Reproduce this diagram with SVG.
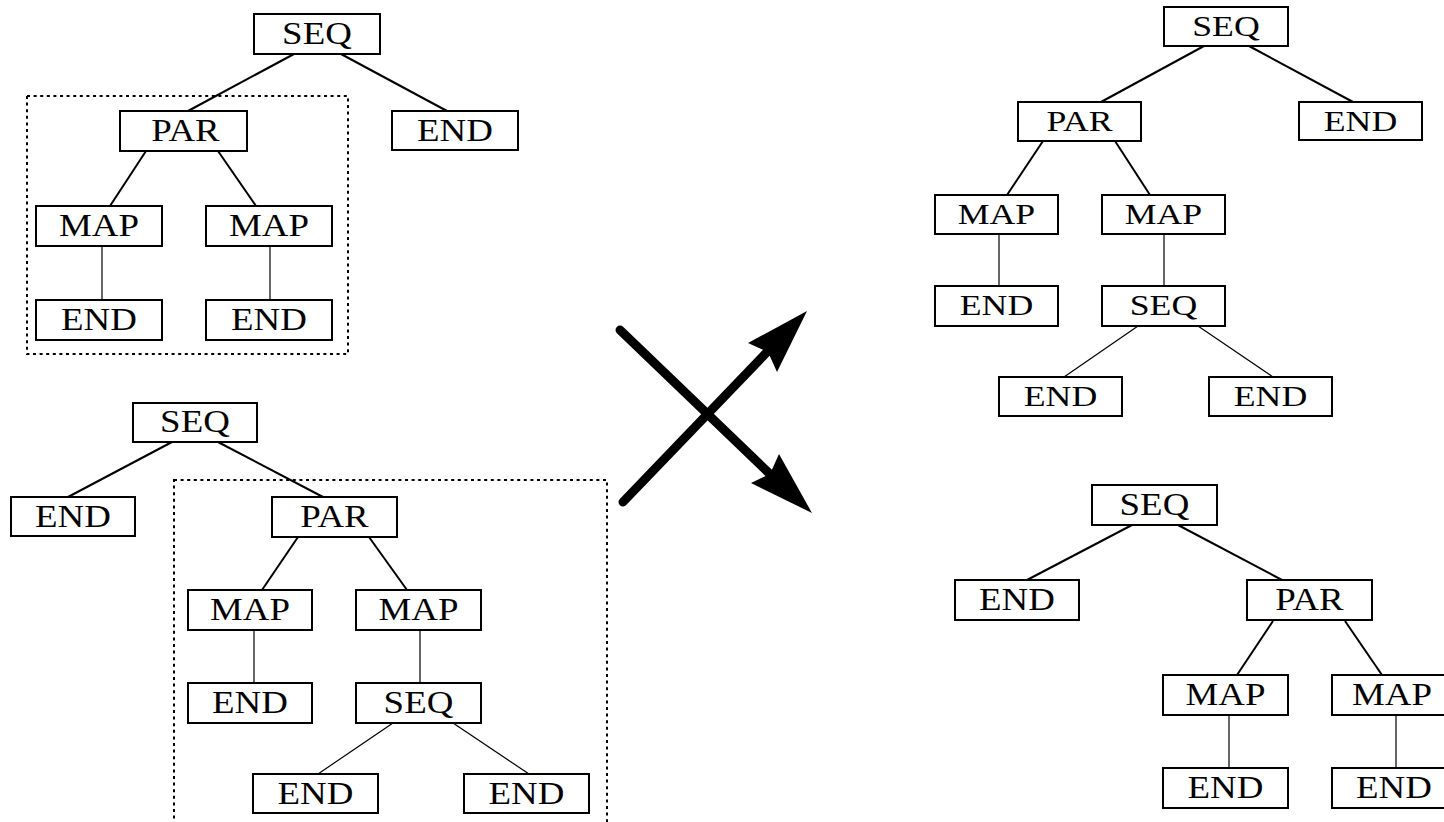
<svg xmlns="http://www.w3.org/2000/svg" width="1444" height="822" viewBox="0 0 1444 822">
  <style>
    .box { fill: #fff; stroke: #000; stroke-width: 2; }
    .lbl { font-family: "Liberation Serif", "Times New Roman", serif; font-size: 31px; text-anchor: middle; fill: #000;
           transform-box: fill-box; transform-origin: center; transform: scaleX(1.19); }
    .sm { font-size: 30px; }
    .edge { stroke: #000; stroke-width: 2; fill: none; }
    .thin { stroke-width: 1.2; }
    .frame { fill: none; stroke: #000; stroke-width: 2; stroke-dasharray: 3 3.6; }
    .big { stroke: #000; stroke-width: 9; stroke-linecap: round; fill: none; }
  </style>
  <rect width="1444" height="822" fill="#fff"/>

  <!-- dotted frames around the exchanged subtrees -->
  <g id="frames">
    <rect class="frame" x="27" y="96" width="321" height="258"/>
    <rect class="frame" x="174" y="480" width="433" height="360"/>
  </g>

  <!-- connectors -->
  <g id="connectors">
    <!-- tree A -->
    <line class="edge" x1="294" y1="54" x2="188" y2="111"/>
    <line class="edge" x1="341" y1="54" x2="447" y2="111"/>
    <line class="edge" x1="146" y1="151" x2="110" y2="206"/>
    <line class="edge" x1="218" y1="151" x2="256" y2="206"/>
    <line class="edge thin" x1="102" y1="246" x2="102" y2="300"/>
    <line class="edge thin" x1="270" y1="246" x2="270" y2="300"/>
    <!-- tree B -->
    <line class="edge" x1="172" y1="442" x2="68" y2="497"/>
    <line class="edge" x1="218" y1="442" x2="323" y2="497"/>
    <line class="edge" x1="298" y1="537" x2="262" y2="590"/>
    <line class="edge" x1="369" y1="537" x2="407" y2="590"/>
    <line class="edge thin" x1="254" y1="630" x2="254" y2="683"/>
    <line class="edge thin" x1="420" y1="630" x2="420" y2="683"/>
    <line class="edge thin" x1="393" y1="723" x2="318" y2="774"/>
    <line class="edge thin" x1="453" y1="723" x2="529" y2="774"/>
    <!-- tree C -->
    <line class="edge" x1="1204" y1="46" x2="1101" y2="102"/>
    <line class="edge" x1="1249" y1="46" x2="1353" y2="102"/>
    <line class="edge" x1="1043" y1="141" x2="1007" y2="195"/>
    <line class="edge" x1="1115" y1="141" x2="1150" y2="195"/>
    <line class="edge thin" x1="999" y1="234" x2="999" y2="286"/>
    <line class="edge thin" x1="1164" y1="234" x2="1164" y2="286"/>
    <line class="edge thin" x1="1138" y1="326" x2="1064" y2="377"/>
    <line class="edge thin" x1="1198" y1="326" x2="1273" y2="377"/>
    <!-- tree D -->
    <line class="edge" x1="1132" y1="525" x2="1027" y2="580"/>
    <line class="edge" x1="1178" y1="525" x2="1282" y2="580"/>
    <line class="edge" x1="1273" y1="621" x2="1237" y2="675"/>
    <line class="edge" x1="1345" y1="621" x2="1382" y2="675"/>
    <line class="edge thin" x1="1229" y1="715" x2="1229" y2="768"/>
    <line class="edge thin" x1="1396" y1="715" x2="1396" y2="768"/>
  </g>

  <!-- crossover arrows -->
  <g id="crossover">
    <line class="big" x1="620" y1="330" x2="772" y2="476"/>
    <polygon points="812,513 779,454 770,474 751,483"/>
    <line class="big" x1="623" y1="502" x2="769" y2="350"/>
    <polygon points="807,311 748,343 768,352 777,372"/>
  </g>

  <!-- tree A -->
  <g id="a_seq"><rect class="box" x="254" y="14" width="126" height="40"/><text class="lbl" x="317" y="44">SEQ</text></g>
  <g id="a_par"><rect class="box" x="120" y="111" width="127" height="40"/><text class="lbl" x="185.5" y="141">PAR</text></g>
  <g id="a_end"><rect class="box" x="392" y="111" width="126" height="39"/><text class="lbl" x="455" y="141">END</text></g>
  <g id="a_map1"><rect class="box" x="36" y="206" width="126" height="40"/><text class="lbl" x="99" y="236">MAP</text></g>
  <g id="a_map2"><rect class="box" x="206" y="206" width="126" height="40"/><text class="lbl" x="269" y="236">MAP</text></g>
  <g id="a_end1"><rect class="box" x="36" y="300" width="126" height="40"/><text class="lbl" x="99" y="330">END</text></g>
  <g id="a_end2"><rect class="box" x="206" y="300" width="126" height="40"/><text class="lbl" x="269" y="330">END</text></g>

  <!-- tree B -->
  <g id="b_seq"><rect class="box" x="133" y="403" width="124" height="39"/><text class="lbl" x="195" y="432">SEQ</text></g>
  <g id="b_end"><rect class="box" x="11" y="497" width="124" height="39"/><text class="lbl" x="73" y="527">END</text></g>
  <g id="b_par"><rect class="box" x="272" y="497" width="125" height="40"/><text class="lbl" x="334.5" y="527">PAR</text></g>
  <g id="b_map1"><rect class="box" x="188" y="590" width="124" height="40"/><text class="lbl" x="250" y="620">MAP</text></g>
  <g id="b_map2"><rect class="box" x="356" y="590" width="125" height="40"/><text class="lbl" x="418.5" y="620">MAP</text></g>
  <g id="b_end1"><rect class="box" x="188" y="683" width="124" height="40"/><text class="lbl" x="250" y="713">END</text></g>
  <g id="b_seq2"><rect class="box" x="356" y="683" width="125" height="40"/><text class="lbl" x="418.5" y="713">SEQ</text></g>
  <g id="b_end2"><rect class="box" x="253" y="774" width="125" height="39"/><text class="lbl" x="315.5" y="804">END</text></g>
  <g id="b_end3"><rect class="box" x="464" y="774" width="125" height="39"/><text class="lbl" x="526.5" y="804">END</text></g>

  <!-- tree C -->
  <g id="c_seq"><rect class="box" x="1164" y="7" width="124" height="39"/><text class="lbl sm" x="1226" y="36">SEQ</text></g>
  <g id="c_par"><rect class="box" x="1018" y="102" width="123" height="39"/><text class="lbl sm" x="1079.5" y="131">PAR</text></g>
  <g id="c_end"><rect class="box" x="1299" y="102" width="123" height="38"/><text class="lbl sm" x="1360.5" y="131">END</text></g>
  <g id="c_map1"><rect class="box" x="935" y="195" width="123" height="39"/><text class="lbl sm" x="996.5" y="224">MAP</text></g>
  <g id="c_map2"><rect class="box" x="1102" y="195" width="123" height="39"/><text class="lbl sm" x="1163.5" y="224">MAP</text></g>
  <g id="c_end1"><rect class="box" x="935" y="286" width="123" height="40"/><text class="lbl sm" x="996.5" y="315">END</text></g>
  <g id="c_seq2"><rect class="box" x="1102" y="286" width="123" height="40"/><text class="lbl sm" x="1163.5" y="315">SEQ</text></g>
  <g id="c_end2"><rect class="box" x="999" y="377" width="123" height="39"/><text class="lbl sm" x="1060.5" y="406">END</text></g>
  <g id="c_end3"><rect class="box" x="1209" y="377" width="123" height="39"/><text class="lbl sm" x="1270.5" y="406">END</text></g>

  <!-- tree D -->
  <g id="d_seq"><rect class="box" x="1092" y="485" width="125" height="40"/><text class="lbl" x="1154.5" y="515">SEQ</text></g>
  <g id="d_end"><rect class="box" x="955" y="580" width="124" height="40"/><text class="lbl" x="1017" y="610">END</text></g>
  <g id="d_par"><rect class="box" x="1247" y="580" width="125" height="40"/><text class="lbl" x="1309.5" y="610">PAR</text></g>
  <g id="d_map1"><rect class="box" x="1163" y="675" width="125" height="40"/><text class="lbl" x="1225.5" y="705">MAP</text></g>
  <g id="d_map2"><rect class="box" x="1332" y="675" width="125" height="40"/><text class="lbl" x="1392" y="705">MAP</text></g>
  <g id="d_end1"><rect class="box" x="1163" y="768" width="125" height="40"/><text class="lbl" x="1225.5" y="798">END</text></g>
  <g id="d_end2"><rect class="box" x="1332" y="768" width="125" height="40"/><text class="lbl" x="1394" y="798">END</text></g>
</svg>
